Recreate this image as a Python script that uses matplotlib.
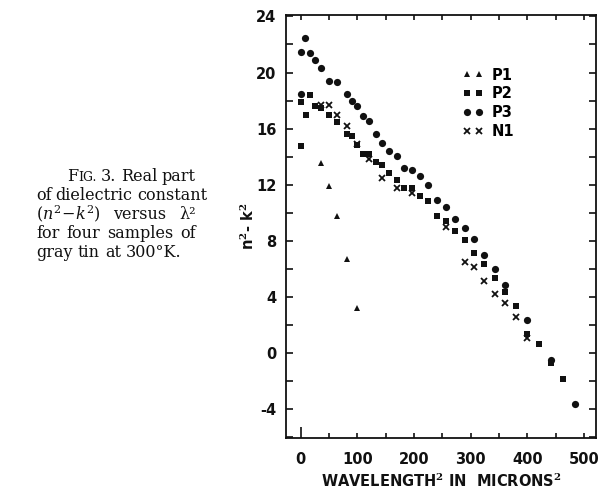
import matplotlib
matplotlib.use("Agg")
import matplotlib.pyplot as plt
from matplotlib.ticker import MultipleLocator
from matplotlib.transforms import IdentityTransform

W, H = 603, 499

# ---------------------------------------------------------------------------
# Data (x = wavelength^2 in microns^2, y = n^2 - k^2)
# ---------------------------------------------------------------------------

p1_x = [36, 49, 64, 81, 100]
p1_y = [13.55, 11.93, 9.76, 6.69, 3.24]

p2_x = [1, 1, 9, 16, 25, 36, 49, 64, 81, 90, 100, 110, 121, 132, 144, 156,
        169, 182, 196, 210, 225, 240, 256, 272, 289, 306, 324, 342, 361, 380,
        400, 420, 441, 462]
p2_y = [14.74, 17.93, 17.0, 18.4, 17.6, 17.45, 16.95, 16.47, 15.63, 15.45,
        14.8, 14.22, 14.22, 13.6, 13.4, 12.82, 12.37, 11.75, 11.75, 11.19,
        10.83, 9.79, 9.45, 8.7, 8.06, 7.16, 6.38, 5.33, 4.38, 3.38, 1.36,
        0.64, -0.7, -1.81]

p3_x = [1, 1, 8, 16, 25, 36, 49, 64, 81, 90, 100, 110, 121, 132, 144, 156,
        169, 182, 196, 210, 225, 240, 256, 272, 289, 306, 324, 342, 361, 400,
        441, 484]
p3_y = [21.45, 18.5, 22.45, 21.4, 20.9, 20.3, 19.42, 19.3, 18.47, 17.96,
        17.6, 16.92, 16.57, 15.62, 15.0, 14.42, 14.03, 13.2, 13.07, 12.6,
        11.98, 10.92, 10.42, 9.58, 8.93, 8.14, 7.0, 6.03, 4.88, 2.35, -0.48,
        -3.65]

n1_x = [36, 49, 64, 81, 100, 121, 144, 169, 196, 256, 289, 306, 324, 342,
        361, 380, 400]
n1_y = [17.7, 17.72, 16.98, 16.18, 14.9, 13.83, 12.5, 11.8, 11.4, 8.97,
        6.52, 6.14, 5.17, 4.19, 3.56, 2.6, 1.08]

x_ticks = [0, 100, 200, 300, 400, 500]
y_ticks = [-4, 0, 4, 8, 12, 16, 20, 24]

caption = [
    ["F|IG.", "3.", "Real", "part"],
    ["of", "dielectric", "constant"],
    [r"$(n^2\!-\!k^2)$", "versus", "λ²"],
    ["for", "four", "samples", "of"],
    ["gray", "tin", "at", "300°K."],
]

# ---------------------------------------------------------------------------
# Style
# ---------------------------------------------------------------------------

plt.rcParams.update({
    "font.family": "DejaVu Sans",
    "mathtext.fontset": "dejavuserif",
    "axes.unicode_minus": False,
})
SERIF = "DejaVu Serif"
INK = "#111111"
LAB = dict(fontsize=10.5, fontweight="bold", color=INK)

fig = plt.figure(figsize=(W / 100, H / 100), dpi=100)
ax = fig.add_axes([286 / W, 1 - 438 / H, (596 - 286) / W, (438 - 15) / H])

ax.plot(p1_x, p1_y, "^", color=INK, ms=4.8, mew=0, label="P1")
ax.plot(p2_x, p2_y, "s", color=INK, ms=4.0, mew=0, label="P2")
ax.plot(p3_x, p3_y, "o", color=INK, ms=5.2, mew=0, label="P3")
ax.plot(n1_x, n1_y, "x", color=INK, ms=3.8, mew=1.3, label="N1")

ax.set_xlim(-26, 521)
ax.set_ylim(-6.05, 24.1)

ax.set_xticks(x_ticks)
ax.set_yticks(y_ticks)
ax.xaxis.set_minor_locator(MultipleLocator(50))
ax.yaxis.set_minor_locator(MultipleLocator(2))
ax.tick_params(which="both", direction="in", top=True, right=True,
               width=1.2, color=INK, labelsize=10.5, labelcolor=INK)
ax.tick_params(axis="x", which="both", length=3.5, pad=10)
ax.tick_params(axis="y", which="both", length=5, pad=7)
for lbl in ax.get_xticklabels() + ax.get_yticklabels():
    lbl.set_fontweight("bold")
for s in ax.spines.values():
    s.set_linewidth(1.3)
    s.set_color(INK)
ax.xaxis.get_major_ticks()[0].tick1line.set_markersize(8)

ax.set_xlabel("WAVELENGTH$^\\mathbf{2}$ IN  MICRONS$^\\mathbf{2}$",
              labelpad=4, **LAB)
ax.set_ylabel("n$^\\mathbf{2}$- k$^\\mathbf{2}$", **LAB)
ax.yaxis.set_label_coords(-0.095, 0.5)

leg = ax.legend(loc="upper left", bbox_to_anchor=(0.547, 0.893), frameon=False,
                numpoints=2, handlelength=1.4, handletextpad=0.6,
                labelspacing=0.27, borderpad=0,
                prop={"size": 10.5, "weight": "bold"})

# ---------------------------------------------------------------------------
# Caption, justified line by line
# ---------------------------------------------------------------------------

renderer = fig.canvas.get_renderer()
CAP_SIZE = 11.5
LEFT, RIGHT, TOP, STEP = 36, 196, 181, 19


def word_parts(word):
    # "F|IG." -> small caps after the bar
    if "|" in word:
        a, b = word.split("|")
        return [(a, CAP_SIZE), (b, CAP_SIZE * 0.78)]
    return [(word, CAP_SIZE)]


def width(s, size):
    t = fig.text(0, 0, s, fontsize=size, family=SERIF)
    w = t.get_window_extent(renderer).width
    t.remove()
    return w


space = width("n n", CAP_SIZE) - 2 * width("n", CAP_SIZE)
for i, words in enumerate(caption):
    y = H - (TOP + i * STEP)
    x0 = 67 if i == 0 else LEFT
    widths = [sum(width(s, z) for s, z in word_parts(w)) for w in words]
    if i == len(caption) - 1:
        gap = space
    else:
        gap = max(space * 0.8, (RIGHT - x0 - sum(widths)) / (len(words) - 1))
    x = x0
    for w, ww in zip(words, widths):
        xx = x
        for s, z in word_parts(w):
            fig.text(xx, y, s, fontsize=z, family=SERIF, color=INK,
                     va="baseline", transform=IdentityTransform())
            xx += width(s, z)
        x += ww + gap

fig.savefig("out.png", dpi=100)
